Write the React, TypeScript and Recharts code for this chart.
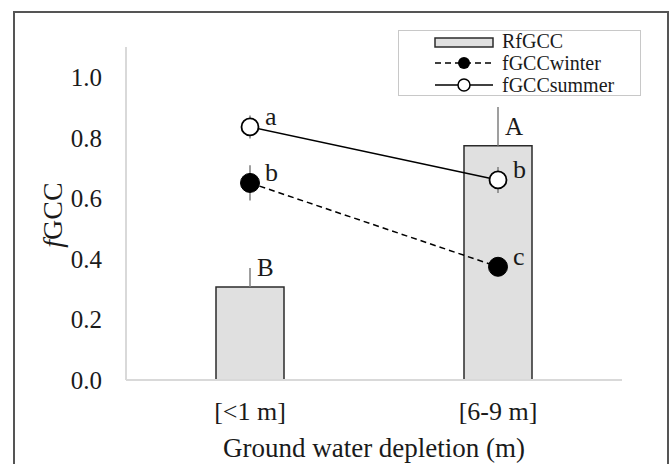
import React from 'react';
import {
  ComposedChart,
  Bar,
  Line,
  XAxis,
  YAxis,
  ErrorBar,
  LabelList,
  Label,
  Legend,
} from 'recharts';

const categories = ['[<1 m]', '[6-9 m]'];
const rfgcc = [0.307, 0.774];
const rfgccErr = [0.063, 0.128];
const rfgccSig = ['B', 'A'];
const winter = [0.651, 0.374];
const winterErr = [0.058, 0.02];
const winterSig = ['b', 'c'];
const summer = [0.836, 0.661];
const summerErr = [0.038, 0.043];
const summerSig = ['a', 'b'];
const yTicks = [0, 0.2, 0.4, 0.6, 0.8, 1.0];
const seriesNames = ['RfGCC', 'fGCCwinter', 'fGCCsummer'];

const data = categories.map((c, i) => ({
  cat: c,
  rfgcc: rfgcc[i],
  rfgccErr: [0, rfgccErr[i]],
  rfgccSig: rfgccSig[i],
  winter: winter[i],
  winterErr: winterErr[i],
  winterSig: winterSig[i],
  summer: summer[i],
  summerErr: summerErr[i],
  summerSig: summerSig[i],
}));

const FONT = "'Liberation Serif', 'DejaVu Serif', serif";
const TXT = '#1a1a1a';
const GRID = '#d9d9d9';
const ERR = '#7f7f7f';
const fs = (size: number) => ({ fontFamily: FONT, fontSize: size });

const pointLetter = (props: any) => {
  const { x, y, value } = props;
  return (
    <text x={x + 15} y={y - 2} style={fs(26)} fill={TXT}>
      {value}
    </text>
  );
};

const barLetter = (props: any) => {
  const { x, y, width, value } = props;
  return (
    <text x={x + width / 2 + 7} y={y - 11} style={fs(25)} fill={TXT}>
      {value}
    </text>
  );
};

const WinterDot = (props: any) => {
  const { cx, cy } = props;
  return <circle cx={cx} cy={cy} r={9.5} fill="#000" stroke="#000" strokeWidth={1} />;
};

const SummerDot = (props: any) => {
  const { cx, cy } = props;
  return <circle cx={cx} cy={cy} r={8.5} fill="#fff" stroke="#000" strokeWidth={1.8} />;
};

const LegendBox = () => (
  <div
    style={{
      boxSizing: 'border-box',
      width: 243,
      height: 66,
      border: '1.5px solid #c8c8c8',
      background: '#fff',
      position: 'relative',
    }}
  >
    <svg
      width={240}
      height={63}
      style={{ position: 'absolute', left: 0, top: 0, overflow: 'visible' }}
    >
      <rect x={36} y={7} width={58} height={9} fill="#e0e0e0" stroke="#2b2b2b" strokeWidth={1.5} />
      <line x1={36} y1={32} x2={94} y2={32} stroke="#000" strokeWidth={1.5} strokeDasharray="6 4" />
      <circle cx={65} cy={32} r={6} fill="#000" />
      <line x1={36} y1={54} x2={94} y2={54} stroke="#000" strokeWidth={1.5} />
      <circle cx={65} cy={54} r={6} fill="#fff" stroke="#000" strokeWidth={1.5} />
      {seriesNames.map((n, i) => (
        <text key={n} x={103} y={17 + i * 22} style={fs(20)} fill={TXT}>
          {n}
        </text>
      ))}
    </svg>
  </div>
);

export default function App() {
  return (
    <div
      style={{
        position: 'absolute',
        left: 0,
        top: 0,
        width: 669,
        height: 464,
        overflow: 'hidden',
        background: '#fff',
        fontFamily: FONT,
      }}
    >
      <div
        style={{
          position: 'absolute',
          left: 13,
          top: 11,
          width: 652,
          height: 500,
          border: '2px solid #555',
        }}
      />
      <div style={{ position: 'absolute', left: 0, top: 0 }}>
        <ComposedChart
          width={669}
          height={464}
          data={data}
          margin={{ top: 47, right: 47, bottom: 0, left: 0 }}
          style={{ fontFamily: FONT }}
        >
          <XAxis
            dataKey="cat"
            type="category"
            height={84}
            tickSize={0}
            tickMargin={22}
            axisLine={{ stroke: GRID, strokeWidth: 2 }}
            tickLine={false}
            tick={{ style: fs(26), fill: TXT }}
          >
            <Label
              content={(p: any) => {
                const vb = p.viewBox;
                return (
                  <text
                    x={vb.x + vb.width / 2}
                    y={vb.y + 77}
                    textAnchor="middle"
                    style={fs(27)}
                    fill={TXT}
                  >
                    Ground water depletion (m)
                  </text>
                );
              }}
            />
          </XAxis>
          <XAxis
            xAxisId="top"
            dataKey="cat"
            orientation="top"
            height={0}
            tick={false}
            tickLine={false}
            axisLine={{ stroke: GRID, strokeWidth: 2 }}
          />
          <YAxis
            width={126}
            domain={[0, 1.1]}
            ticks={yTicks}
            tickFormatter={(v: number) => v.toFixed(1)}
            tickSize={0}
            tickMargin={24}
            tickLine={false}
            axisLine={{ stroke: GRID, strokeWidth: 2 }}
            tick={{ style: fs(25), fill: TXT }}
          >
            <Label
              content={() => {
                const cx = 62;
                const cy = 215;
                return (
                  <text
                    x={cx}
                    y={cy}
                    transform={`rotate(-90, ${cx}, ${cy})`}
                    textAnchor="middle"
                    style={fs(28)}
                    fill={TXT}
                  >
                    <tspan fontStyle="italic">f</tspan>GCC
                  </text>
                );
              }}
            />
          </YAxis>
          <YAxis
            yAxisId="right"
            orientation="right"
            width={0}
            domain={[0, 1.1]}
            tick={false}
            tickLine={false}
            axisLine={{ stroke: GRID, strokeWidth: 2 }}
          />
          <Legend
            layout="horizontal"
            verticalAlign="middle"
            align="center"
            wrapperStyle={{ position: 'absolute', left: 398, top: 30, width: 243, height: 66 }}
            content={() => <LegendBox />}
          />
          <Bar
            dataKey="rfgcc"
            name="RfGCC"
            barSize={68}
            fill="#e0e0e0"
            stroke="#2b2b2b"
            strokeWidth={1.5}
            isAnimationActive={false}
          >
            <ErrorBar dataKey="rfgccErr" width={0} stroke={ERR} strokeWidth={1.5} />
            <LabelList dataKey="rfgccSig" content={barLetter} />
          </Bar>
          <Line
            dataKey="winter"
            name="fGCCwinter"
            stroke="#000"
            strokeWidth={1.5}
            strokeDasharray="6 4"
            dot={<WinterDot />}
            activeDot={false}
            isAnimationActive={false}
          >
            <ErrorBar dataKey="winterErr" width={0} stroke={ERR} strokeWidth={1.5} />
            <LabelList dataKey="winterSig" content={pointLetter} />
          </Line>
          <Line
            dataKey="summer"
            name="fGCCsummer"
            stroke="#000"
            strokeWidth={1.5}
            dot={<SummerDot />}
            activeDot={false}
            isAnimationActive={false}
          >
            <ErrorBar dataKey="summerErr" width={0} stroke={ERR} strokeWidth={1.5} />
            <LabelList dataKey="summerSig" content={pointLetter} />
          </Line>
        </ComposedChart>
      </div>
    </div>
  );
}
